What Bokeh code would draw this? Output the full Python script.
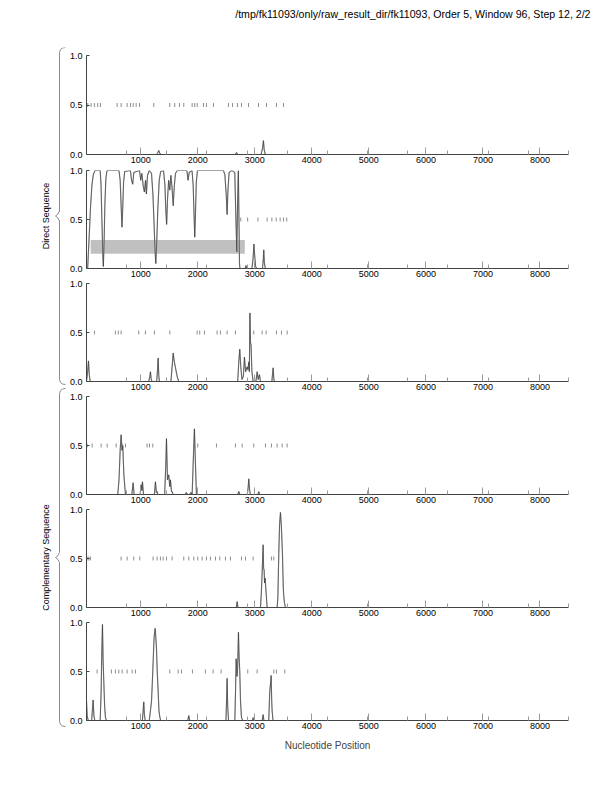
import math
from bokeh.plotting import figure
from bokeh.layouts import row, column
from bokeh.models import Range1d, FixedTicker, PrintfTickFormatter
from bokeh.core.properties import value
from bokeh.embed import file_html
from bokeh.resources import INLINE

FONT = "Liberation Sans"

title_text = "/tmp/fk11093/only/raw_result_dir/fk11093, Order 5, Window 96, Step 12, 2/2"
group_labels = ["Direct Sequence", "Complementary Sequence"]
x_label = "Nucleotide Position"
x_start, x_end = 50, 8500
x_major_ticks = [1000, 2000, 3000, 4000, 5000, 6000, 7000, 8000]
x_minor_ticks = [50, 754, 1458, 2162, 2867, 3571, 4275, 4979, 5683, 6387, 7092, 7796, 8500]
y_ticks = [0.0, 0.5, 1.0]

# coding-potential curves, (position, value)
direct_1 = [(50, 0.00), (1280, 0.00), (1300, 0.02), (1317, 0.04), (1335, 0.01), (1360, 0.00),
            (2660, 0.00), (2680, 0.02), (2700, 0.00), (3110, 0.00), (3135, 0.06), (3152, 0.14),
            (3165, 0.05), (3185, 0.00), (3600, 0.00)]
direct_2 = [(70, 0.00), (95, 0.30), (120, 0.62), (145, 0.85), (170, 0.96), (200, 1.00), (290, 1.00),
            (305, 0.85), (320, 0.50), (335, 0.15), (345, 0.02), (358, 0.25), (372, 0.65), (390, 0.92),
            (410, 1.00), (620, 1.00), (640, 0.90), (660, 0.60), (672, 0.42), (685, 0.62), (700, 0.88),
            (720, 0.99), (820, 1.00), (840, 0.90), (860, 0.86), (880, 0.98), (980, 1.00), (1000, 0.90),
            (1020, 0.97), (1045, 0.84), (1065, 0.78), (1085, 0.90), (1100, 0.76), (1120, 0.95),
            (1150, 1.00), (1190, 0.97), (1215, 0.75), (1235, 0.45), (1250, 0.20), (1265, 0.05),
            (1280, 0.25), (1300, 0.60), (1325, 0.90), (1350, 0.99), (1400, 1.00), (1425, 0.85),
            (1440, 0.60), (1455, 0.45), (1470, 0.70), (1490, 0.90), (1510, 0.80), (1530, 0.95),
            (1550, 0.82), (1570, 0.64), (1590, 0.85), (1610, 0.97), (1640, 1.00), (1810, 1.00),
            (1830, 0.90), (1850, 0.98), (1900, 1.00), (1920, 0.85), (1935, 0.55), (1948, 0.32),
            (1960, 0.55), (1975, 0.88), (1995, 1.00), (2450, 1.00), (2475, 0.96), (2500, 0.75),
            (2515, 0.55), (2530, 0.80), (2550, 0.98), (2600, 1.00), (2650, 0.98), (2665, 0.60),
            (2685, 0.17), (2700, 0.70), (2712, 1.00), (2722, 0.55), (2732, 0.05), (2740, 0.00),
            (2830, 0.00), (2845, 0.03), (2860, 0.00), (2950, 0.00), (2970, 0.10), (2985, 0.25),
            (3000, 0.12), (3015, 0.02), (3035, 0.00), (3135, 0.00), (3150, 0.10), (3158, 0.19),
            (3168, 0.06), (3185, 0.00), (3600, 0.00)]
direct_3 = [(50, 0.00), (70, 0.10), (85, 0.21), (100, 0.06), (115, 0.00), (1140, 0.00), (1160, 0.05),
            (1171, 0.10), (1185, 0.02), (1200, 0.00), (1280, 0.00), (1295, 0.12), (1306, 0.24),
            (1318, 0.05), (1330, 0.00), (1530, 0.00), (1555, 0.18), (1569, 0.29), (1590, 0.20),
            (1610, 0.14), (1640, 0.05), (1668, 0.00), (2700, 0.00), (2720, 0.20), (2737, 0.33),
            (2755, 0.15), (2775, 0.02), (2800, 0.05), (2819, 0.25), (2840, 0.10), (2866, 0.15),
            (2880, 0.12), (2896, 0.20), (2905, 0.10), (2915, 0.70), (2925, 0.40), (2935, 0.37),
            (2950, 0.10), (2971, 0.00), (3020, 0.00), (3041, 0.10), (3060, 0.02), (3082, 0.07),
            (3100, 0.00), (3300, 0.00), (3312, 0.08), (3322, 0.14), (3335, 0.02), (3350, 0.00),
            (3600, 0.00)]
comp_1 = [(50, 0.00), (598, 0.00), (620, 0.15), (640, 0.45), (657, 0.61), (672, 0.45), (686, 0.50),
          (705, 0.20), (733, 0.00), (845, 0.00), (867, 0.12), (885, 0.00), (990, 0.00), (1008, 0.10),
          (1020, 0.04), (1031, 0.13), (1050, 0.00), (1240, 0.00), (1259, 0.13), (1275, 0.02),
          (1288, 0.03), (1300, 0.00), (1420, 0.00), (1440, 0.30), (1452, 0.57), (1470, 0.15),
          (1492, 0.20), (1510, 0.08), (1522, 0.15), (1540, 0.03), (1551, 0.03), (1570, 0.00),
          (1780, 0.00), (1800, 0.02), (1820, 0.00), (1860, 0.00), (1880, 0.02), (1902, 0.00),
          (1925, 0.40), (1942, 0.67), (1958, 0.35), (1977, 0.00), (2700, 0.00), (2720, 0.03),
          (2740, 0.00), (2870, 0.00), (2885, 0.08), (2895, 0.16), (2910, 0.04), (2925, 0.00),
          (3055, 0.00), (3070, 0.03), (3085, 0.00), (3600, 0.00)]
comp_2 = [(50, 0.00), (2675, 0.00), (2691, 0.06), (2705, 0.00), (3100, 0.00), (3115, 0.15),
          (3129, 0.35), (3146, 0.64), (3155, 0.40), (3164, 0.38), (3172, 0.25), (3181, 0.30),
          (3199, 0.15), (3217, 0.00), (3392, 0.00), (3405, 0.10), (3421, 0.55), (3435, 0.85),
          (3450, 0.97), (3465, 0.85), (3485, 0.55), (3500, 0.20), (3508, 0.12), (3520, 0.05),
          (3538, 0.00), (3600, 0.00)]
comp_3 = [(50, 0.20), (62, 0.05), (80, 0.00), (140, 0.00), (155, 0.12), (166, 0.21), (180, 0.05),
          (195, 0.00), (290, 0.00), (307, 0.30), (318, 0.70), (330, 0.98), (342, 0.60), (353, 0.40),
          (368, 0.15), (382, 0.03), (400, 0.00), (1030, 0.00), (1045, 0.12), (1054, 0.19),
          (1065, 0.06), (1080, 0.00), (1150, 0.00), (1171, 0.10), (1190, 0.20), (1205, 0.40),
          (1218, 0.59), (1235, 0.85), (1253, 0.94), (1265, 0.85), (1276, 0.75), (1290, 0.50),
          (1306, 0.30), (1320, 0.10), (1334, 0.04), (1350, 0.00), (1825, 0.00), (1843, 0.05),
          (1860, 0.00), (2495, 0.00), (2505, 0.20), (2515, 0.43), (2525, 0.15), (2540, 0.00),
          (2650, 0.00), (2663, 0.30), (2673, 0.63), (2690, 0.45), (2700, 0.55), (2714, 0.90),
          (2725, 0.65), (2737, 0.50), (2750, 0.20), (2767, 0.03), (2790, 0.00), (2960, 0.00),
          (2971, 0.03), (2985, 0.00), (3130, 0.00), (3146, 0.06), (3160, 0.00), (3245, 0.00),
          (3263, 0.30), (3280, 0.40), (3287, 0.46), (3297, 0.20), (3304, 0.10), (3320, 0.00),
          (3600, 0.00)]

# stop codon positions per frame
stops_d1 = [72, 131, 189, 247, 295, 587, 657, 763, 820, 868, 920, 978, 1229, 1509, 1597, 1680, 1755,
            1902, 1948, 1990, 2100, 2153, 2275, 2538, 2609, 2696, 2767, 2890, 3065, 3205, 3380, 3502]
stops_d2 = [2755, 2875, 3055, 3217, 3300, 3375, 3445, 3505, 3560]
stops_d3 = [189, 557, 608, 657, 966, 1083, 1241, 1510, 1989, 2035, 2118, 2340, 2398, 2515, 2661,
            2982, 3129, 3199, 3380, 3468, 3568]
stops_c1 = [61, 149, 307, 412, 570, 675, 733, 1113, 1154, 1212, 1452, 2000, 2328, 2661, 2779, 2982,
            3187, 3292, 3392, 3480, 3568]
stops_c2 = [61, 90, 119, 657, 763, 878, 984, 1218, 1288, 1346, 1394, 1452, 1551, 1755, 1843, 1931,
            2000, 2077, 2153, 2223, 2311, 2386, 2486, 2574, 2767, 2837, 2971, 3292, 3333]
stops_c3 = [236, 487, 557, 616, 675, 763, 850, 908, 1510, 1657, 1715, 1907, 2135, 2270, 2410, 2877,
            3041, 3333, 3380, 3526]

# predicted gene (frame direct 2)
gene_start, gene_end = 123, 2825
gene_bottom, gene_top = 0.15, 0.29

curves = [direct_1, direct_2, direct_3, comp_1, comp_2, comp_3]
stops = [stops_d1, stops_d2, stops_d3, stops_c1, stops_c2, stops_c3]

# layout (top border, frame height, bottom border) in px
specs = [(8, 99, 12), (4, 98, 12), (3, 98, 12), (3, 98, 12), (3, 98, 12), (3, 98, 39)]
LEFT_W = 66
COL_W = 538
HEADER_H = 47


def make_panel(i, curve, stp, spec):
    tb, fh, bb = spec
    p = figure(width=COL_W, height=tb + fh + bb, x_range=Range1d(x_start, x_end),
               y_range=Range1d(0, 1), output_backend="svg", toolbar_location=None,
               min_border_left=20, min_border_right=36, min_border_top=tb, min_border_bottom=bb)
    p.outline_line_color = None
    p.grid.visible = False
    p.background_fill_color = "white"
    p.border_fill_color = "white"
    xa = p.xaxis[0]
    xa.ticker = FixedTicker(ticks=x_major_ticks, minor_ticks=x_minor_ticks)
    xa.axis_line_color = "#444444"
    xa.major_tick_in = 7
    xa.major_tick_out = 0
    xa.minor_tick_in = 4
    xa.minor_tick_out = 0
    xa.major_tick_line_color = "#9a9a9a"
    xa.minor_tick_line_color = "#9a9a9a"
    xa.major_label_standoff = 2
    xa.major_label_text_font = FONT
    xa.major_label_text_font_size = "9px"
    xa.major_label_text_color = "black"
    ya = p.yaxis[0]
    ya.ticker = FixedTicker(ticks=y_ticks)
    ya.formatter = PrintfTickFormatter(format="%.1f")
    ya.axis_line_color = "#444444"
    ya.major_tick_in = 3
    ya.major_tick_out = 0
    ya.major_tick_line_color = "#444444"
    ya.minor_tick_line_color = None
    ya.major_label_standoff = 4
    ya.major_label_text_font = FONT
    ya.major_label_text_font_size = "9px"
    ya.major_label_text_color = "black"
    if i == 5:
        xa.axis_label = x_label
        xa.axis_label_text_font = FONT
        xa.axis_label_text_font_size = "10px"
        xa.axis_label_text_font_style = "normal"
        xa.axis_label_standoff = 8
    if i == 1:
        p.quad(left=[gene_start], right=[gene_end], bottom=[gene_bottom], top=[gene_top],
               fill_color="#c0c0c0", line_color=None)
    p.segment(x0=stp, y0=[0.48] * len(stp), x1=stp, y1=[0.52] * len(stp),
              line_color="#8c8c8c", line_width=1)
    xs = [a for a, b in curve]
    ys = [b for a, b in curve]
    p.line(xs, ys, line_color="#aaaaaa", line_width=1.2)
    p.line(xs, ys, line_color="#262626", line_width=0.55)
    return p


panels = [make_panel(i, c, s, sp) for i, (c, s, sp) in enumerate(zip(curves, stops, specs))]

# header with title (full page width, its own frame)
PAGE_W = LEFT_W + COL_W
header = figure(width=PAGE_W, height=HEADER_H, x_range=Range1d(0, PAGE_W),
                y_range=Range1d(-HEADER_H, 0), output_backend="svg", toolbar_location=None,
                min_border=0, x_axis_location=None, y_axis_location=None)
header.outline_line_color = None
header.grid.visible = False
header.text(x=[590], y=[-13], text=[title_text], text_align="right", text_baseline="middle",
            text_font=value(FONT), text_font_size="10.6px", text_color="black")

# frame page positions (for braces)
tops = []
bots = []
ypos = HEADER_H
for tb, fh, bb in specs:
    tops.append(ypos + tb)
    bots.append(ypos + tb + fh)
    ypos += tb + fh + bb
total_h = ypos

left = figure(width=LEFT_W, height=total_h - HEADER_H, x_range=Range1d(0, LEFT_W),
              y_range=Range1d(-total_h, -HEADER_H), output_backend="svg", toolbar_location=None,
              min_border=0, x_axis_location=None, y_axis_location=None)
left.outline_line_color = None
left.grid.visible = False

brace_spans = [(tops[0] - 8, bots[2] + 3), (tops[3] - 8, bots[5] + 6)]
for (bt, bbt), lab in zip(brace_spans, group_labels):
    mid = (bt + bbt) / 2
    bx = [65, 62, 60, 59, 59, 57.5, 55, 57.5, 59, 59, 60, 62, 65]
    by = [bt, bt + 0.5, bt + 2, bt + 5, mid - 5, mid - 2, mid, mid + 2, mid + 5,
          bbt - 5, bbt - 2, bbt - 0.5, bbt]
    left.line(bx, [-v for v in by], line_color="#8a8a8a", line_width=1)
    left.text(x=[45], y=[-mid], text=[lab], angle=math.pi / 2, text_align="center",
              text_baseline="middle", text_font=value(FONT), text_font_size="9px",
              text_color="black")

layout = column(header, row(left, column(*panels)))
open("out.html", "w").write(file_html(layout, INLINE))
